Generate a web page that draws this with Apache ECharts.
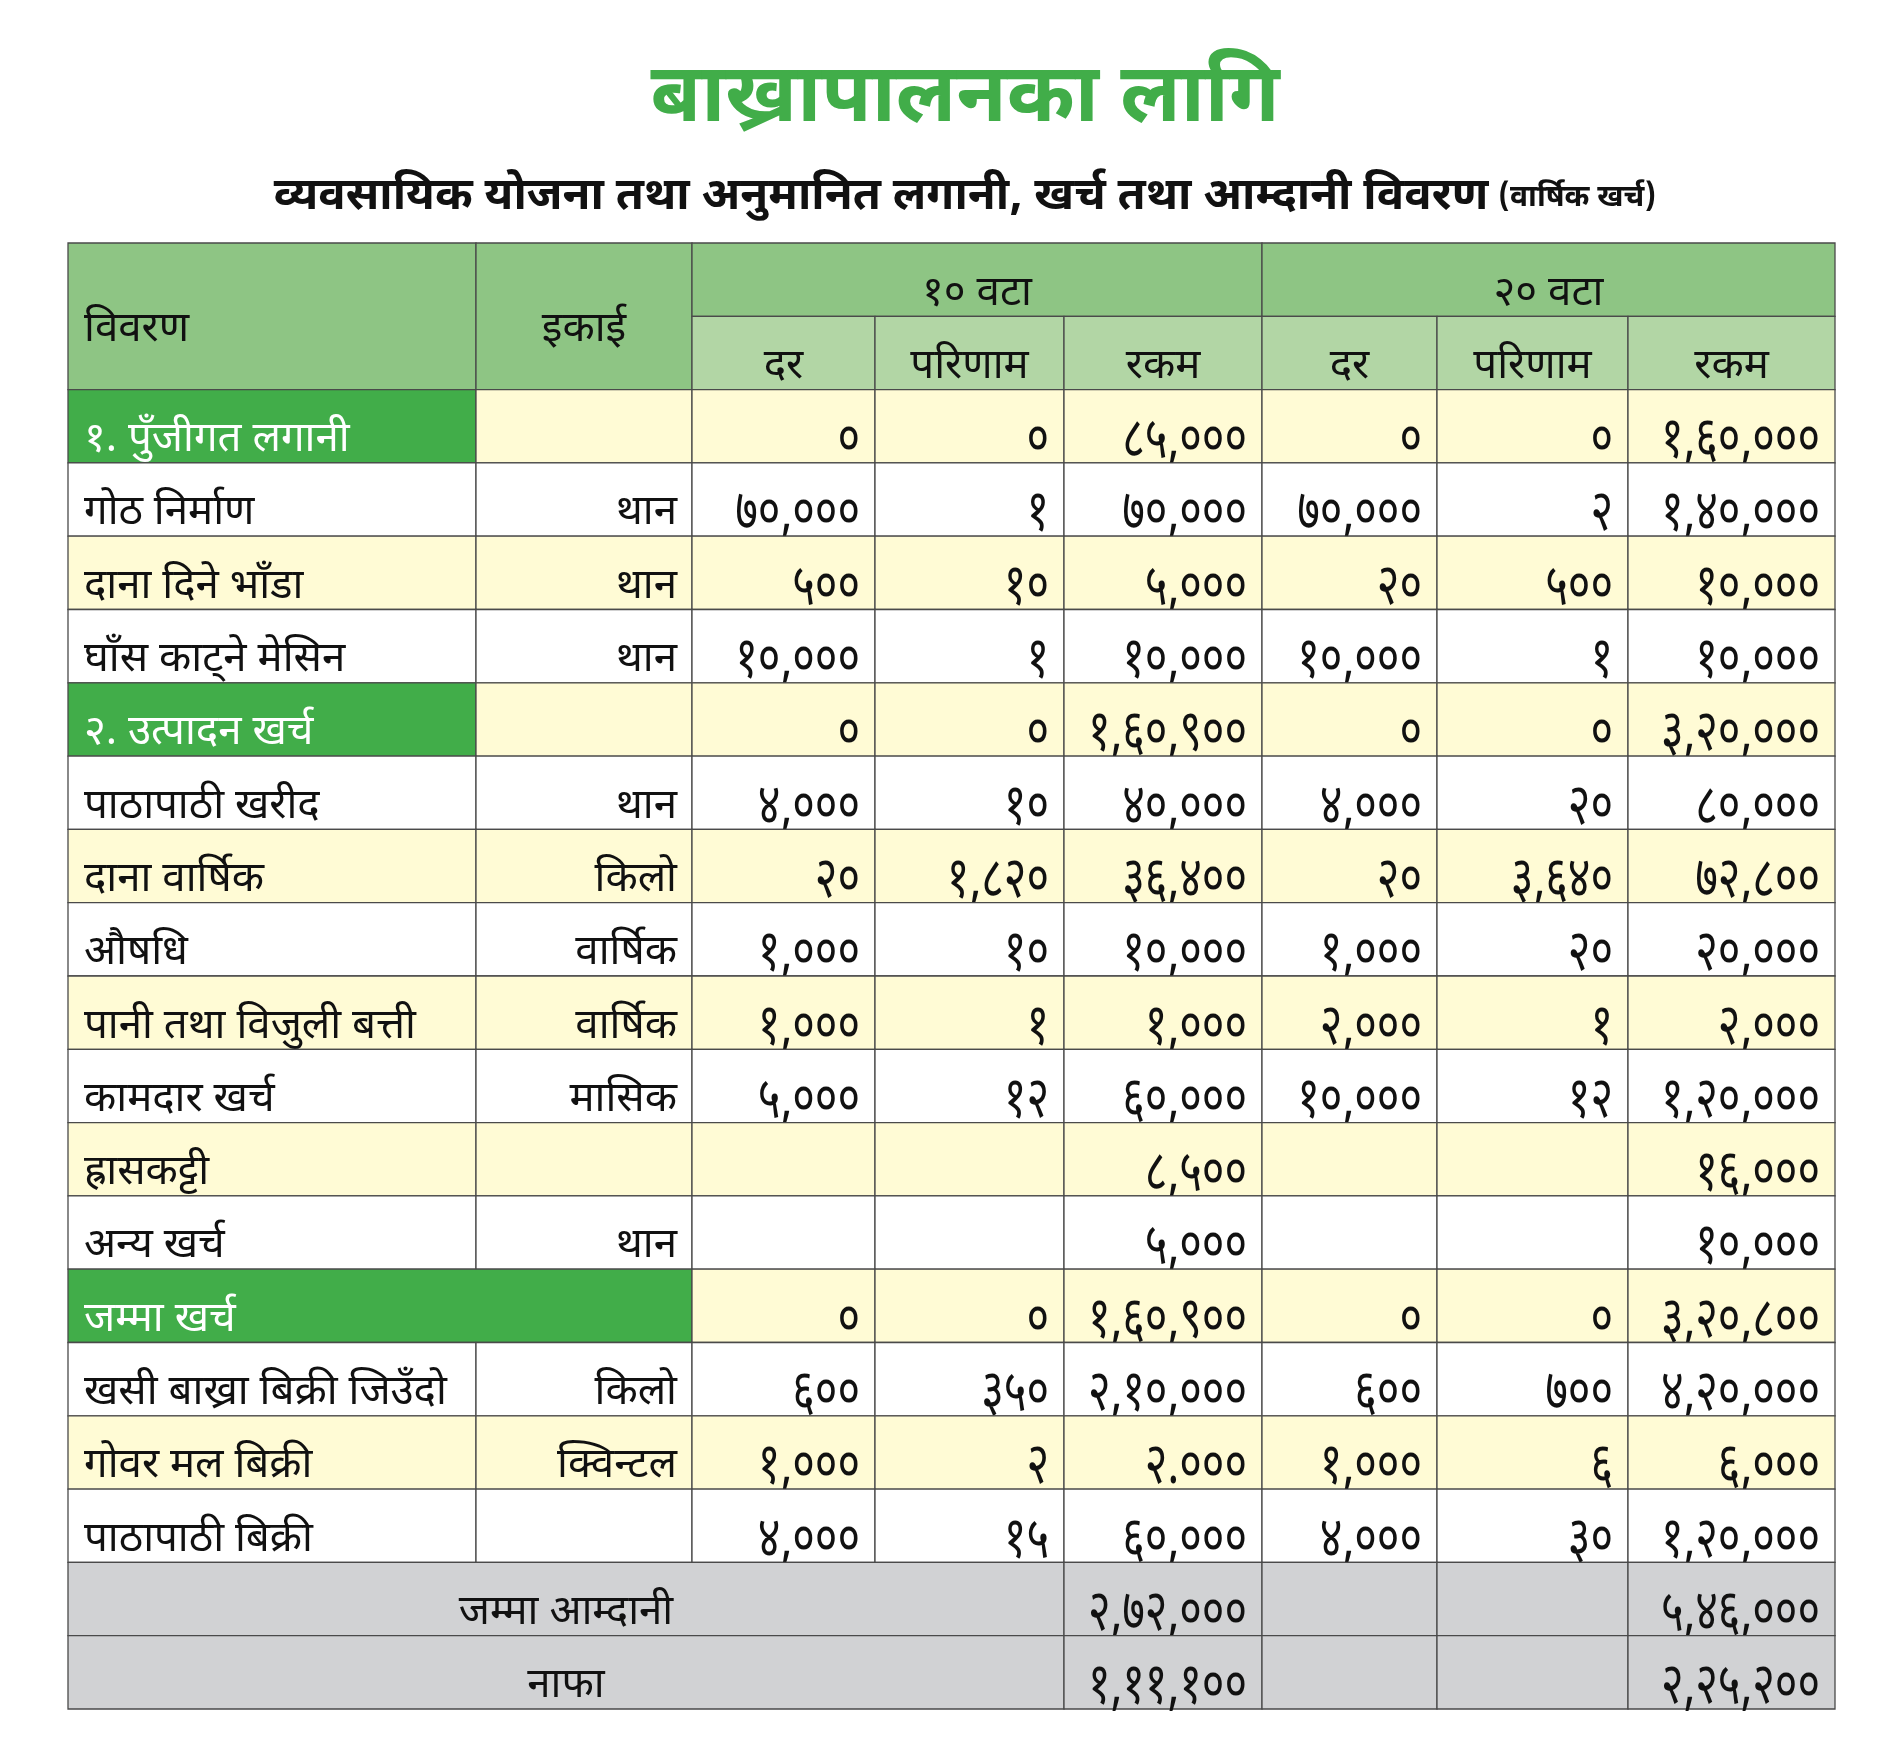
<!DOCTYPE html>
<html>
<head>
<meta charset="utf-8">
<title>बाख्रापालनका लागि</title>
<script src="https://cdn.jsdelivr.net/npm/echarts@6/dist/echarts.min.js"></script>
<style>
  html, body { margin: 0; padding: 0; background: #fff; }
  #main { width: 1898px; height: 1758px; }
</style>
</head>
<body>
<div id="main"></div>
<script>
// तालिकाको डाटा
var rowLabels = ["१. पुँजीगत लगानी", "गोठ निर्माण", "दाना दिने भाँडा", "घाँस काट्ने मेसिन", "२. उत्पादन खर्च",
  "पाठापाठी खरीद", "दाना वार्षिक", "औषधि", "पानी तथा विजुली बत्ती", "कामदार खर्च", "ह्रासकट्टी", "अन्य खर्च",
  "जम्मा खर्च", "खसी बाख्रा बिक्री जिउँदो", "गोवर मल बिक्री", "पाठापाठी बिक्री", "जम्मा आम्दानी", "नाफा"];
var rowKinds = ["section", "white", "yellow", "white", "section", "white", "yellow", "white", "yellow", "white",
  "yellow", "white", "total", "white", "yellow", "white", "gray", "gray"];
var units = ["", "थान", "थान", "थान", "", "थान", "किलो", "वार्षिक", "वार्षिक", "मासिक", "", "थान", "", "किलो", "क्विन्टल", "", "", ""];
var rate10 = ["०", "७०,०००", "५००", "१०,०००", "०", "४,०००", "२०", "१,०००", "१,०००", "५,०००", "", "", "०", "६००", "१,०००", "४,०००", "", ""];
var qty10 = ["०", "१", "१०", "१", "०", "१०", "१,८२०", "१०", "१", "१२", "", "", "०", "३५०", "२", "१५", "", ""];
var amount10 = ["८५,०००", "७०,०००", "५,०००", "१०,०००", "१,६०,९००", "४०,०००", "३६,४००", "१०,०००", "१,०००", "६०,०००",
  "८,५००", "५,०००", "१,६०,९००", "२,१०,०००", "२.०००", "६०,०००", "२,७२,०००", "१,११,१००"];
var rate20 = ["०", "७०,०००", "२०", "१०,०००", "०", "४,०००", "२०", "१,०००", "२,०००", "१०,०००", "", "", "०", "६००", "१,०००", "४,०००", "", ""];
var qty20 = ["०", "२", "५००", "१", "०", "२०", "३,६४०", "२०", "१", "१२", "", "", "०", "७००", "६", "३०", "", ""];
var amount20 = ["१,६०,०००", "१,४०,०००", "१०,०००", "१०,०००", "३,२०,०००", "८०,०००", "७२,८००", "२०,०००", "२,०००", "१,२०,०००",
  "१६,०००", "१०,०००", "३,२०,८००", "४,२०,०००", "६,०००", "१,२०,०००", "५,४६,०००", "२,२५,२००"];
var groupLabels = ["१० वटा", "२० वटा"];
var subLabels = ["दर", "परिणाम", "रकम"];

// स्तम्भका किनारा (तालिकाको एकाइमा)
var colEdges = [0, 408, 624, 807, 996, 1194, 1369, 1560, 1767];
var headRows = 2;
var totalRows = headRows + rowLabels.length;

var C = {
  head: '#8ec584', sub: '#b2d6a5', green: '#41ad49', yellow: '#fffbd5', white: '#ffffff', gray: '#d1d2d4'
};
var FONT = "'Noto Sans Devanagari', 'Noto Sans', sans-serif";

var cells = [];
function addCell(c0, c1, r0, r1, text, fill, align, color, isNum) {
  cells.push({ c0: c0, c1: c1, r0: r0, r1: r1, text: text, fill: fill, align: align || 'right',
    color: color || '#111', num: !!isNum });
}

// हेडर
addCell(0, 1, 0, 2, 'विवरण', C.head, 'left');
addCell(1, 2, 0, 2, 'इकाई', C.head, 'center');
addCell(2, 5, 0, 1, groupLabels[0], C.head, 'center');
addCell(5, 8, 0, 1, groupLabels[1], C.head, 'center');
for (var g = 0; g < 2; g++) {
  for (var s = 0; s < 3; s++) {
    addCell(2 + g * 3 + s, 3 + g * 3 + s, 1, 2, subLabels[s], C.sub, 'center');
  }
}

// डाटा पङ्क्तिहरू
rowLabels.forEach(function (label, i) {
  var r = headRows + i;
  var kind = rowKinds[i];
  var bg = kind === 'yellow' || kind === 'section' || kind === 'total' ? C.yellow : (kind === 'gray' ? C.gray : C.white);
  if (kind === 'section') {
    addCell(0, 1, r, r + 1, label, C.green, 'left', '#fff');
    addCell(1, 2, r, r + 1, units[i], bg);
  } else if (kind === 'total') {
    addCell(0, 2, r, r + 1, label, C.green, 'left', '#fff');
  } else if (kind === 'gray') {
    addCell(0, 4, r, r + 1, label, bg, 'center');
  } else {
    addCell(0, 1, r, r + 1, label, bg, 'left');
    addCell(1, 2, r, r + 1, units[i], bg);
  }
  if (kind !== 'gray') {
    addCell(2, 3, r, r + 1, rate10[i], bg, 'right', null, true);
    addCell(3, 4, r, r + 1, qty10[i], bg, 'right', null, true);
  }
  addCell(4, 5, r, r + 1, amount10[i], bg, 'right', null, true);
  addCell(5, 6, r, r + 1, rate20[i], bg, 'right', null, true);
  addCell(6, 7, r, r + 1, qty20[i], bg, 'right', null, true);
  addCell(7, 8, r, r + 1, amount20[i], bg, 'right', null, true);
});

var chart = echarts.init(document.getElementById('main'), null, { renderer: 'canvas' });

var option = {
  backgroundColor: '#fff',
  animation: false,
  title: [{
    text: 'बाख्रापालनका लागि',
    left: 960,
    textAlign: 'center',
    top: 60,
    textStyle: { fontFamily: FONT, fontSize: 82, fontWeight: 'bold', color: '#41ad49' }
  }, {
    text: '{a|व्यवसायिक योजना तथा अनुमानित लगानी, खर्च तथा आम्दानी विवरण}  {b|(वार्षिक खर्च)}',
    left: 960,
    textAlign: 'center',
    top: 172,
    textStyle: {
      rich: {
        a: { fontFamily: FONT, fontSize: 45.5, fontWeight: 'bold', color: '#111' },
        b: { fontFamily: FONT, fontSize: 30, color: '#111' }
      }
    }
  }],
  grid: { left: 68, top: 243, width: 1767, height: 1466 },
  xAxis: { type: 'value', min: 0, max: colEdges[colEdges.length - 1], show: false },
  yAxis: { type: 'value', min: 0, max: totalRows, inverse: true, show: false },
  series: [{
    type: 'custom',
    coordinateSystem: 'cartesian2d',
    silent: true,
    data: cells.map(function (c) { return [colEdges[c.c0], c.r0, colEdges[c.c1], c.r1]; }),
    renderItem: function (params, api) {
      var c = cells[params.dataIndex];
      var p0 = api.coord([api.value(0), api.value(1)]);
      var p1 = api.coord([api.value(2), api.value(3)]);
      var x = p0[0], y = p0[1], w = p1[0] - p0[0], h = p1[1] - p0[1];
      var tx = c.align === 'left' ? x + 16 : (c.align === 'center' ? x + w / 2 : x + w - 15);
      var size = c.num ? 58 : 42;
      return {
        type: 'group',
        children: [{
          type: 'rect',
          shape: { x: x, y: y, width: w, height: h },
          style: { fill: c.fill, stroke: '#4a4a4a', lineWidth: 1.3 }
        }, {
          type: 'text',
          x: tx,
          y: y + h / 2 + (c.num ? 20 : 17),
          scaleX: c.num ? 0.75 : 1,
          style: {
            x: 0, y: 0, text: c.text, fill: c.color,
            font: size + 'px ' + FONT, align: c.align, verticalAlign: 'middle'
          }
        }]
      };
    }
  }]
};

chart.setOption(option);
</script>
</body>
</html>
